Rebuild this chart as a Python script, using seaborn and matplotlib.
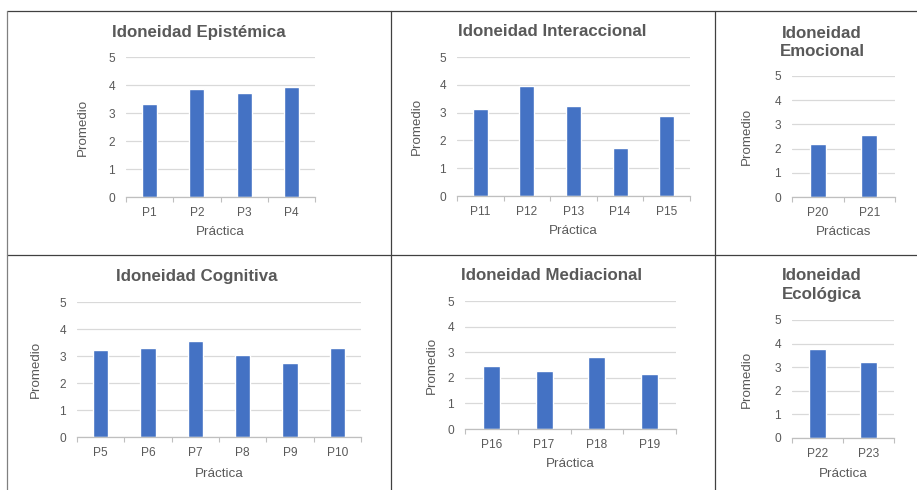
import matplotlib
matplotlib.use("Agg")
import matplotlib.pyplot as plt
import seaborn as sns
import numpy as np
from matplotlib.lines import Line2D

sns.set_theme(style="white")
plt.rcParams['font.family'] = ['Liberation Sans', 'DejaVu Sans']

# ---- data ----
epi_labels = ["P1", "P2", "P3", "P4"]
epi_vals = [3.31, 3.85, 3.70, 3.94]
int_labels = ["P11", "P12", "P13", "P14", "P15"]
int_vals = [3.12, 3.97, 3.24, 1.73, 2.88]
emo_labels = ["P20", "P21"]
emo_vals = [2.19, 2.57]
cog_labels = ["P5", "P6", "P7", "P8", "P9", "P10"]
cog_vals = [3.22, 3.28, 3.55, 3.04, 2.74, 3.28]
med_labels = ["P16", "P17", "P18", "P19"]
med_vals = [2.46, 2.25, 2.83, 2.13]
eco_labels = ["P22", "P23"]
eco_vals = [3.77, 3.24]

W, H = 917, 490
fig = plt.figure(figsize=(W / 100, H / 100), dpi=100)
fig.patch.set_facecolor("white")

BAR = "#4472C4"
TXT = "#595959"
GRID = "#D9D9D9"

def px_axes(x0, x1, ytop, ybot):
    return fig.add_axes([x0 / W, 1 - ybot / H, (x1 - x0) / W, (ybot - ytop) / H])

def panel(rect, labels, vals, title_lines, title_x, title_ys, xlabel, ylab_x, xlab_y):
    x0, x1, ytop, ybot = rect
    ax = px_axes(*rect)
    sns.barplot(x=labels, y=vals, color=BAR, saturation=1, width=0.32, ax=ax)
    n = len(labels)
    ax.set_xlim(-0.5, n - 0.5)
    ax.set_ylim(0, 5)
    ax.set_yticks(range(0, 6))
    ax.yaxis.grid(True, color=GRID, lw=0.9)
    ax.set_axisbelow(True)
    for s in ["top", "right", "left"]:
        ax.spines[s].set_visible(False)
    ax.spines["bottom"].set_color("#BFBFBF")
    ax.spines["bottom"].set_linewidth(0.9)
    ax.set_xticks(np.arange(-0.5, n, 1.0), minor=True)
    ax.tick_params(axis="x", which="major", length=0, pad=7.5, labelsize=8.6, colors=TXT)
    ax.tick_params(axis="x", which="minor", length=3.5, color="#BFBFBF", width=0.8, bottom=True)
    ax.tick_params(axis="y", length=0, pad=8, labelsize=8.6, colors=TXT)
    ax.set_xlabel(xlabel, fontsize=9.6, color=TXT)
    ax.set_ylabel("Promedio", fontsize=9.6, color=TXT)
    # label centers given in pixels
    ax.yaxis.set_label_coords((ylab_x + 6 - x0) / (x1 - x0), 0.5)
    ax.xaxis.set_label_coords(0.5, -(xlab_y - 4 - ybot) / (ybot - ytop))
    for line, ty in zip(title_lines, title_ys):
        fig.text(title_x / W, 1 - ty / H, line, ha="center", va="center",
                 fontsize=12.2, fontweight="bold", color=TXT)
    return ax

panel((126, 315, 57, 197), epi_labels, epi_vals, ["Idoneidad Epistémica"], 199, [32], "Práctica", 83, 230)
panel((457, 690, 57, 196), int_labels, int_vals, ["Idoneidad Interaccional"], 552, [32], "Práctica", 417, 229)
panel((792, 895, 76, 197), emo_labels, emo_vals, ["Idoneidad", "Emocional"], 822, [33, 52], "Prácticas", 747, 230)
panel((77, 361, 302, 437), cog_labels, cog_vals, ["Idoneidad Cognitiva"], 197, [277], "Práctica", 36, 472)
panel((465, 676, 301, 429), med_labels, med_vals, ["Idoneidad Mediacional"], 552, [276], "Práctica", 432, 462)
panel((792, 894, 320, 438), eco_labels, eco_vals, ["Idoneidad", "Ecológica"], 822, [275, 294], "Práctica", 747, 472)

# table borders
def fline(x0, y0, x1, y1, color="#404040"):
    fig.add_artist(Line2D([x0 / W, x1 / W], [1 - y0 / H, 1 - y1 / H],
                          color=color, lw=0.9, transform=fig.transFigure))

fline(7, 11, W, 11)
fline(7, 255, W, 255)
fline(7, 11, 7, H, color="#808080")
fline(391, 11, 391, H)
fline(715, 11, 715, H)

fig.savefig("out.png", dpi=100, facecolor="white")
